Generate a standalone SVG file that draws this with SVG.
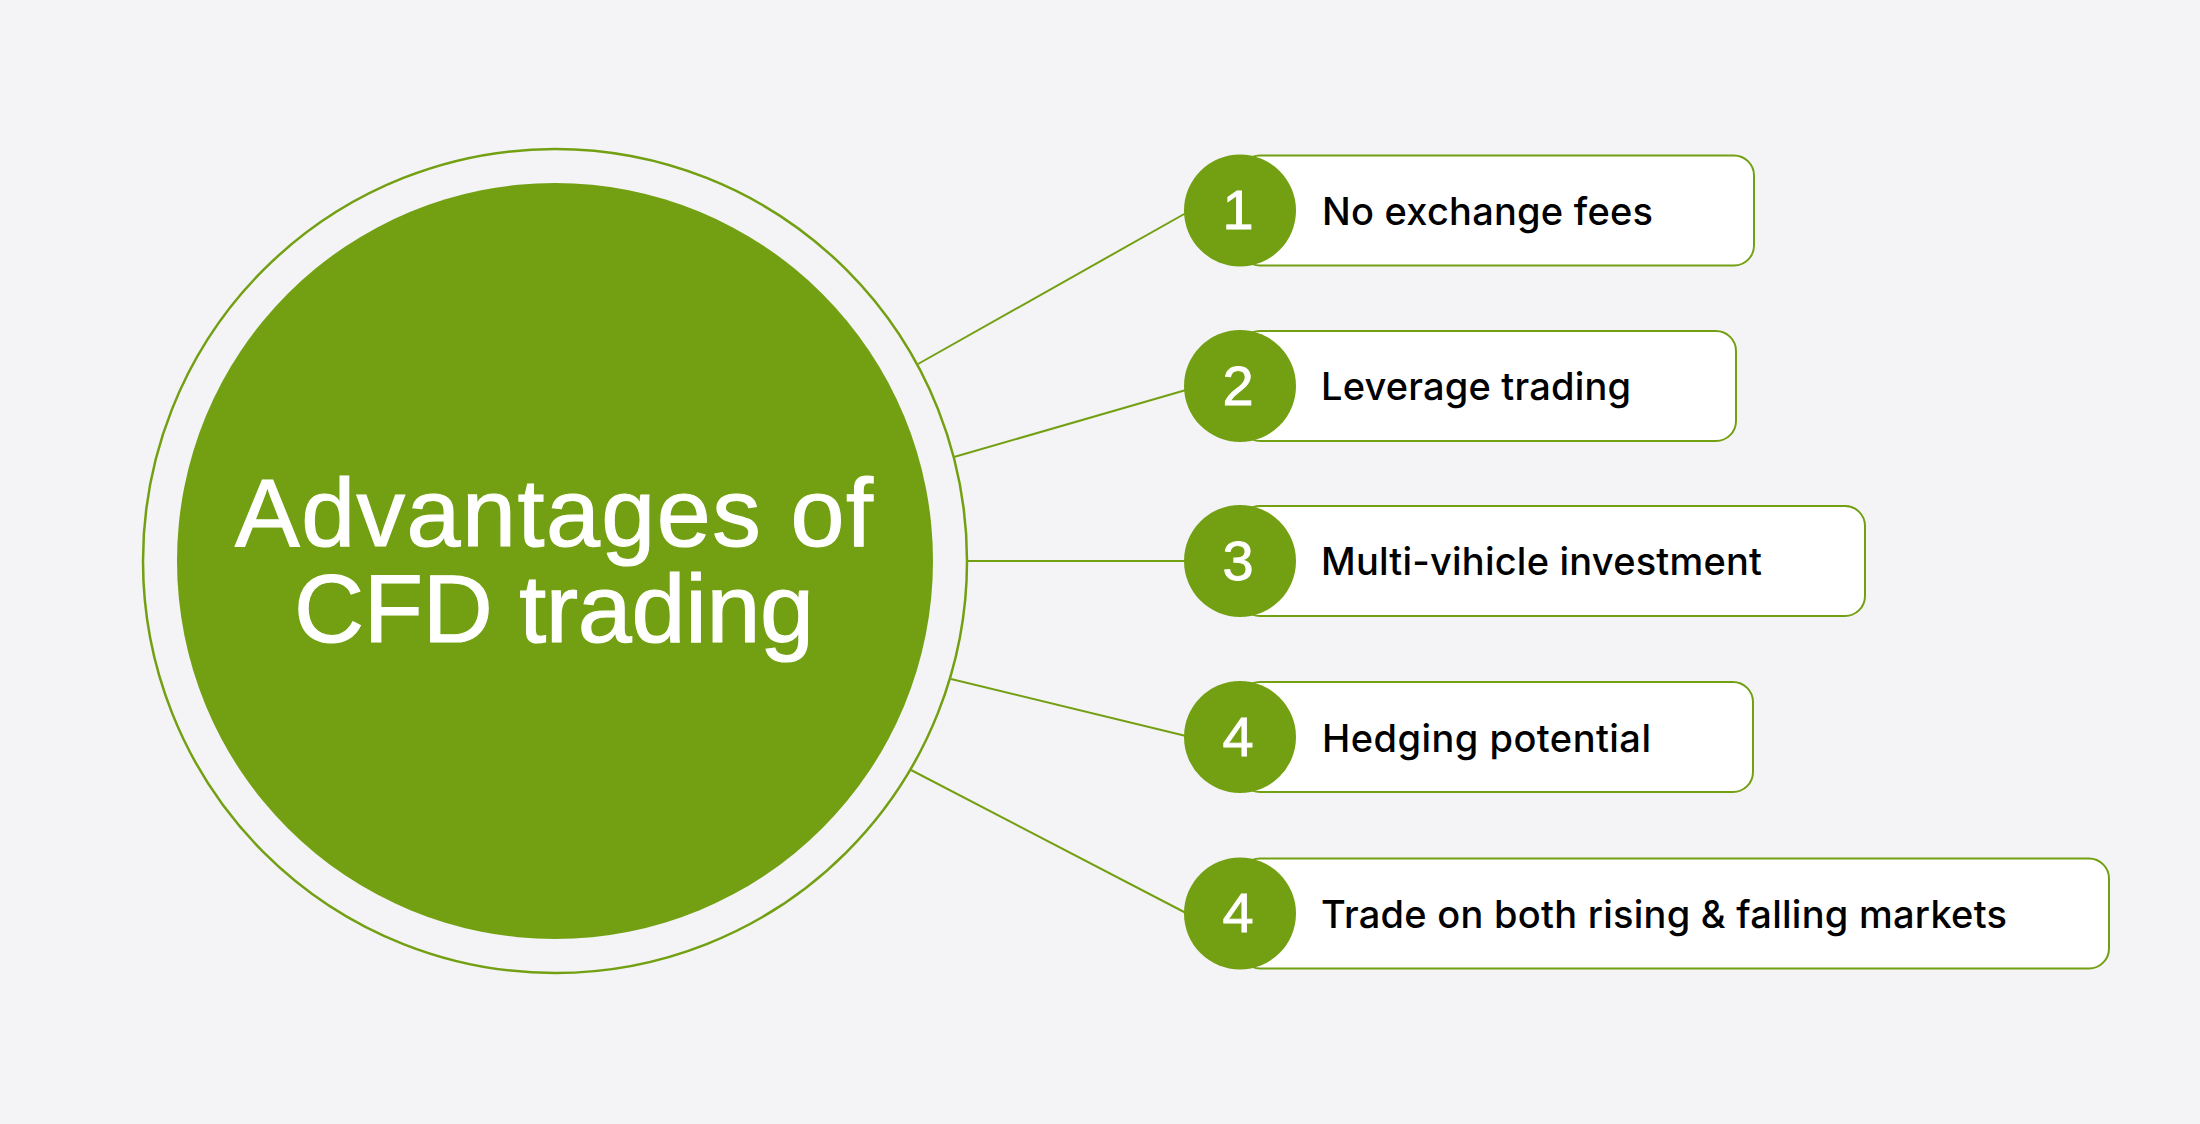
<svg xmlns="http://www.w3.org/2000/svg" width="2200" height="1124" viewBox="0 0 2200 1124">
<style>
.ring{fill:none;stroke:#72A012;stroke-width:2.5}
.core{fill:#72A012}
.title{font-family:"Liberation Sans",Arial,sans-serif;font-size:97px;fill:#ffffff;stroke:#ffffff;stroke-width:1.2;text-anchor:middle}
.conn{stroke:#72A012;stroke-width:2;fill:none}
.box{fill:#ffffff;stroke:#72A012;stroke-width:2}
.badge{fill:#72A012}
.num{font-family:"Liberation Sans",Arial,sans-serif;font-size:56px;fill:#ffffff;stroke:#ffffff;stroke-width:0.8;text-anchor:middle}
.lbl{font-family:Inter,"Liberation Sans",sans-serif;font-size:38px;font-weight:500;fill:#000000}
</style>
<rect x="0" y="0" width="2200" height="1124" fill="#F4F4F6"/>
<g id="connectors">
<line class="conn" x1="918" y1="364" x2="1186" y2="213"/>
<line class="conn" x1="954" y1="457" x2="1186" y2="390"/>
<line class="conn" x1="968" y1="561" x2="1186" y2="561"/>
<line class="conn" x1="951" y1="679" x2="1186" y2="736"/>
<line class="conn" x1="911" y1="770" x2="1186" y2="913"/>
</g>
<g id="center">
<circle class="ring" cx="555" cy="561" r="412"/>
<circle class="core" cx="555" cy="561" r="378"/>
<text class="title" x="554" y="546" textLength="638">Advantages of</text>
<text class="title" x="554" y="642" textLength="520">CFD trading</text>
</g>
<g id="item1">
<rect class="box" x="1240" y="155.5" width="514" height="110" rx="20"/>
<circle class="badge" cx="1240" cy="210.5" r="56"/>
<text class="num" x="1238" y="229">1</text>
<text class="lbl" x="1322" y="224.5" textLength="331">No exchange fees</text>
</g>
<g id="item2">
<rect class="box" x="1240" y="331" width="496" height="110" rx="20"/>
<circle class="badge" cx="1240" cy="386" r="56"/>
<text class="num" x="1238" y="404.5">2</text>
<text class="lbl" x="1321" y="400" textLength="310">Leverage trading</text>
</g>
<g id="item3">
<rect class="box" x="1240" y="506" width="625" height="110" rx="20"/>
<circle class="badge" cx="1240" cy="561" r="56"/>
<text class="num" x="1238" y="579.5">3</text>
<text class="lbl" x="1321" y="575" textLength="441">Multi-vihicle investment</text>
</g>
<g id="item4">
<rect class="box" x="1240" y="682" width="513" height="110" rx="20"/>
<circle class="badge" cx="1240" cy="737" r="56"/>
<text class="num" x="1238" y="755.5">4</text>
<text class="lbl" x="1322" y="751.5" textLength="329">Hedging potential</text>
</g>
<g id="item5">
<rect class="box" x="1240" y="858.5" width="869" height="110" rx="20"/>
<circle class="badge" cx="1240" cy="913.5" r="56"/>
<text class="num" x="1238" y="932">4</text>
<text class="lbl" x="1321" y="927.5" textLength="686">Trade on both rising &amp; falling markets</text>
</g>
</svg>
